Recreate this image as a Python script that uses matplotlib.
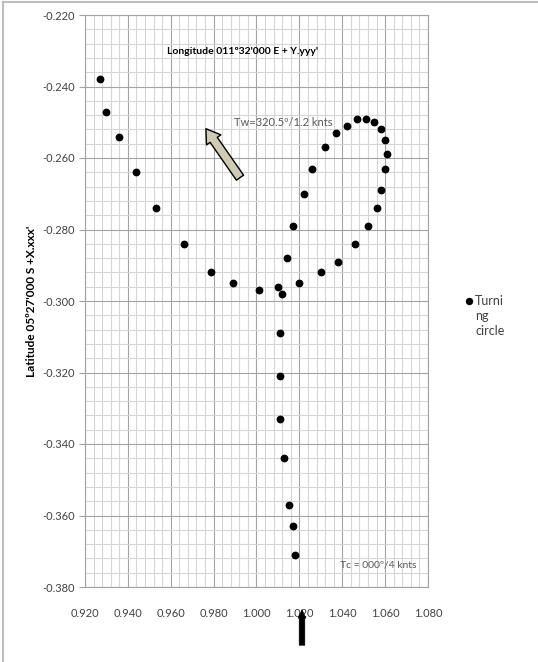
import matplotlib
matplotlib.use('Agg')
from matplotlib import pyplot as plt
from matplotlib.lines import Line2D
from matplotlib.ticker import MultipleLocator, FormatStrFormatter

# turning circle track: longitude offset Y.yyy' and latitude offset X.xxx'
lon = [1.018, 1.017, 1.015, 1.013, 1.011, 1.011, 1.011, 1.012,
       1.020, 1.030, 1.038, 1.046, 1.052, 1.056, 1.058, 1.060, 1.061,
       1.060, 1.058, 1.055, 1.051, 1.047, 1.042, 1.037, 1.032, 1.026,
       1.022, 1.017, 1.014, 1.010, 1.001, 0.989, 0.979, 0.966, 0.953,
       0.944, 0.936, 0.930, 0.927]
lat = [-0.371, -0.363, -0.357, -0.344, -0.333, -0.321, -0.309, -0.298,
       -0.295, -0.292, -0.289, -0.284, -0.279, -0.274, -0.269, -0.263, -0.259,
       -0.255, -0.252, -0.250, -0.249, -0.249, -0.251, -0.253, -0.257, -0.263,
       -0.270, -0.279, -0.288, -0.296, -0.297, -0.295, -0.292, -0.284, -0.274,
       -0.264, -0.254, -0.247, -0.238]

x_lim = (0.920, 1.080)
y_lim = (-0.380, -0.220)
series_name = 'Turni\nng\ncircle'
x_title = "Longitude 011\u00ba32'000 E + Y.yyy'"
y_title = "Latitude 05\u00ba27'000 S +X.xxx'"
wind_text = 'Tw=320.5\u00ba/1.2 knts'
course_text = 'Tc = 000\u00ba/4 knts'

plt.rcParams['font.family'] = ['Lato', 'DejaVu Sans']

W, H = 538, 662
fig = plt.figure(figsize=(W / 100, H / 100), dpi=100)
ax = fig.add_axes([85 / W, 1 - 587 / H, 343 / W, 572 / H])

ax.plot(lon, lat, 'o', color='black', ms=4.6, zorder=3)

ax.set_xlim(*x_lim)
ax.set_ylim(*y_lim)
ax.xaxis.set_major_locator(MultipleLocator(0.02))
ax.yaxis.set_major_locator(MultipleLocator(0.02))
ax.xaxis.set_minor_locator(MultipleLocator(0.004))
ax.yaxis.set_minor_locator(MultipleLocator(0.004))
ax.xaxis.set_major_formatter(FormatStrFormatter('%.3f'))
ax.yaxis.set_major_formatter(FormatStrFormatter('%.3f'))
ax.grid(which='major', color='#a3a3a3', lw=0.8)
ax.grid(which='minor', color='#d6d6d6', lw=0.8)
ax.set_axisbelow(True)
ax.tick_params(axis='x', which='both', length=0, pad=15, labelsize=8,
               labelcolor='#404040')
ax.tick_params(axis='y', which='major', length=4, color='#a3a3a3', pad=3,
               labelsize=8, labelcolor='#404040')
ax.tick_params(axis='y', which='minor', length=0)
for s in ax.spines.values():
    s.set_color('#a3a3a3')
    s.set_linewidth(0.8)

ax.set_ylabel(y_title, fontsize=8.5, fontweight='bold', labelpad=4)

# text boxes drawn inside the plot area
ax.text(0.9584, -0.2302, x_title, fontsize=7.5, fontweight='bold',
        va='center', ha='left')
ax.text(0.9895, -0.2500, wind_text, fontsize=8, color='#595959',
        va='center', ha='left')
ax.text(1.0389, -0.3738, course_text, fontsize=7.5, color='#595959',
        va='center', ha='left')

# wind arrow
ax.annotate('', xy=(0.9764, -0.2518), xytext=(0.9923, -0.2655),
            arrowprops=dict(arrowstyle='simple,head_length=0.7,head_width=0.9,tail_width=0.45',
                            fc='#cfcbb4', ec='black', lw=1, mutation_scale=14,
                            shrinkA=0, shrinkB=0))

# heading arrow under the axis
fig.add_artist(matplotlib.patches.FancyArrowPatch(
    (302, H - 648), (302, H - 607), transform=None,
    arrowstyle='simple,head_length=0.6,head_width=0.55,tail_width=0.4',
    mutation_scale=10, fc='black', ec='black', lw=0.5))

# legend entry
fig.add_artist(Line2D([469 / W], [1 - 301 / H], marker='o', color='black',
                      ms=4.3, ls='none', transform=fig.transFigure))
fig.text(475 / W, 1 - 295 / H, series_name, fontsize=9, color='#404040',
         va='top', ha='left', linespacing=1.3)

# chart area border
fig.add_artist(Line2D([3 / W, 3 / W], [0, 1 - 1.5 / H], color='#bdbdbd', lw=1.5,
                      transform=fig.transFigure))
fig.add_artist(Line2D([3 / W, 1], [1 - 1.5 / H, 1 - 1.5 / H], color='#bdbdbd', lw=1.5,
                      transform=fig.transFigure))

fig.savefig('out.png', dpi=100)
